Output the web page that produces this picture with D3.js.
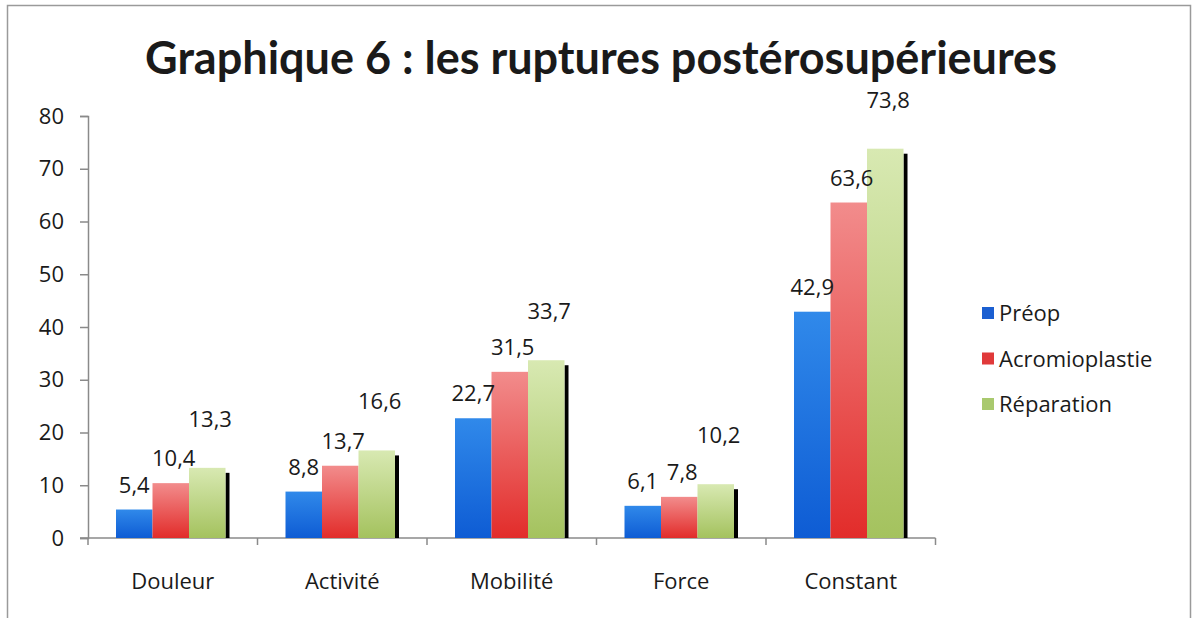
<!DOCTYPE html>
<html>
<head>
<meta charset="utf-8">
<script src="https://cdn.jsdelivr.net/npm/d3@7"></script>
<style>
	body { margin: 0; background: #fff; }
	svg { display: block; font-family: 'Open Sans', sans-serif; }
</style>
</head>
<body>
<div id="chart"></div>
<script>
var categories = ['Douleur', 'Activité', 'Mobilité', 'Force', 'Constant'];
var seriesNames = ['Préop', 'Acromioplastie', 'Réparation'];
var preop = [5.4, 8.8, 22.7, 6.1, 42.9];
var acromioplastie = [10.4, 13.7, 31.5, 7.8, 63.6];
var reparation = [13.3, 16.6, 33.7, 10.2, 73.8];
var yTicks = [0, 10, 20, 30, 40, 50, 60, 70, 80];
var title = 'Graphique 6 : les ruptures postérosupérieures';

var width = 1193, height = 618;
var plot = { left: 88, right: 935.5, top: 116, bottom: 538 };

// gradient stops per series: top colour, bottom colour
var gradients = [
	['#3089ea', '#0e5cd4'],
	['#f28c8c', '#e22c2a'],
	['#d8e9b2', '#a4c25e']
];
var legendColors = ['#1b5fd1', '#e0393a', '#a9c96e'];

function fmt(v) {
	return String(v).replace('.', ',');
}

function drawChart() {
	var values = [preop, acromioplastie, reparation];

	var svg = d3
		.select('#chart')
		.append('svg')
		.attr('width', width)
		.attr('height', height);

	var defs = svg.append('defs');
	gradients.forEach((g, i) => {
		var lg = defs
			.append('linearGradient')
			.attr('id', 'grad-' + i)
			.attr('x1', 0)
			.attr('y1', 0)
			.attr('x2', 0)
			.attr('y2', 1);
		lg.append('stop').attr('offset', '0%').attr('stop-color', g[0]);
		lg.append('stop').attr('offset', '100%').attr('stop-color', g[1]);
	});

	// outer frame
	svg
		.append('rect')
		.attr('x', 7.5)
		.attr('y', 5.5)
		.attr('width', 1183)
		.attr('height', 640)
		.attr('fill', 'none')
		.attr('stroke', '#9a9a9a')
		.attr('stroke-width', 1.5);

	svg
		.append('text')
		.attr('x', 601)
		.attr('y', 74)
		.attr('text-anchor', 'middle')
		.style('font-family', 'Lato, sans-serif')
		.style('font-size', '45px')
		.style('font-weight', 'bold')
		.attr('fill', '#1a1a1a')
		.text(title);

	var x0 = d3
		.scaleBand()
		.domain(categories)
		.range([plot.left, plot.right])
		.paddingInner(0.354)
		.paddingOuter(0.177);

	var x1 = d3
		.scaleBand()
		.domain(d3.range(seriesNames.length))
		.range([0, x0.bandwidth()]);

	var y = d3
		.scaleLinear()
		.domain([0, 80])
		.range([plot.bottom, plot.top]);

	// y axis
	var yAxis = svg
		.append('g')
		.attr('transform', 'translate(' + plot.left + ',0)')
		.call(d3.axisLeft(y).tickValues(yTicks).tickSize(8).tickPadding(16));
	yAxis.select('.domain').attr('stroke', '#8a8a8a').attr('stroke-width', 1.5);
	yAxis.selectAll('.tick line').attr('stroke', '#8a8a8a').attr('stroke-width', 1.5);
	yAxis
		.selectAll('.tick text')
		.style('font-size', '22px')
		.style('font-family', "'Open Sans', sans-serif")
		.attr('fill', '#1a1a1a');

	// x axis line with boundary ticks
	var step = x0.step();
	var xg = svg.append('g');
	xg.append('line')
		.attr('x1', plot.left - 8)
		.attr('x2', plot.right)
		.attr('y1', y(0))
		.attr('y2', y(0))
		.attr('stroke', '#8a8a8a')
		.attr('stroke-width', 1.5);
	xg.selectAll('.xtick')
		.data(d3.range(categories.length + 1))
		.enter()
		.append('line')
		.attr('x1', d => plot.left + d * step)
		.attr('x2', d => plot.left + d * step)
		.attr('y1', y(0))
		.attr('y2', y(0) + 7)
		.attr('stroke', '#8a8a8a')
		.attr('stroke-width', 1.5);
	xg.selectAll('.xlabel')
		.data(categories)
		.enter()
		.append('text')
		.attr('x', d => x0(d) + x0.bandwidth() / 2)
		.attr('y', 589)
		.attr('text-anchor', 'middle')
		.style('font-size', '22px')
		.attr('fill', '#1a1a1a')
		.text(d => d);

	// bars
	var groups = svg
		.selectAll('.group')
		.data(categories)
		.enter()
		.append('g')
		.attr('transform', d => 'translate(' + (x0(d) - 2) + ',0)');

	// shadow behind last series
	groups
		.append('rect')
		.attr('x', (d, i) => x1(2) + x1.bandwidth())
		.attr('y', (d, i) => y(reparation[i]) + 5)
		.attr('width', 4)
		.attr('height', (d, i) => y(0) - y(reparation[i]) - 5)
		.attr('fill', '#000');

	groups
		.selectAll('rect.bar')
		.data((d, i) => values.map((s, k) => ({ k: k, v: s[i] })))
		.enter()
		.append('rect')
		.attr('class', 'bar')
		.attr('x', d => x1(d.k))
		.attr('y', d => y(d.v))
		.attr('width', x1.bandwidth())
		.attr('height', d => y(0) - y(d.v))
		.attr('fill', d => 'url(#grad-' + d.k + ')');

	// value labels (Excel puts the last series higher)
	groups
		.selectAll('text.val')
		.data((d, i) => values.map((s, k) => ({ k: k, v: s[i] })))
		.enter()
		.append('text')
		.attr('class', 'val')
		.attr('x', d => x1(d.k) + x1.bandwidth() / 2 + (d.k > 0 ? 3 : 0))
		.attr('y', d => y(d.v) - (d.k == 2 ? 41 : 17))
		.attr('text-anchor', 'middle')
		.style('font-size', '22px')
		.attr('fill', '#1a1a1a')
		.text(d => fmt(d.v));

	// legend
	var legend = svg
		.selectAll('.legend')
		.data(seriesNames)
		.enter()
		.append('g')
		.attr('transform', (d, i) => 'translate(982,' + (313 + i * 45.5) + ')');
	legend
		.append('rect')
		.attr('x', 0)
		.attr('y', -6)
		.attr('width', 12)
		.attr('height', 12)
		.attr('fill', (d, i) => legendColors[i]);
	legend
		.append('text')
		.attr('x', 17)
		.attr('y', 8)
		.style('font-size', '22px')
		.attr('fill', '#1a1a1a')
		.text(d => d);
}

window.onload = drawChart;
</script>
</body>
</html>
